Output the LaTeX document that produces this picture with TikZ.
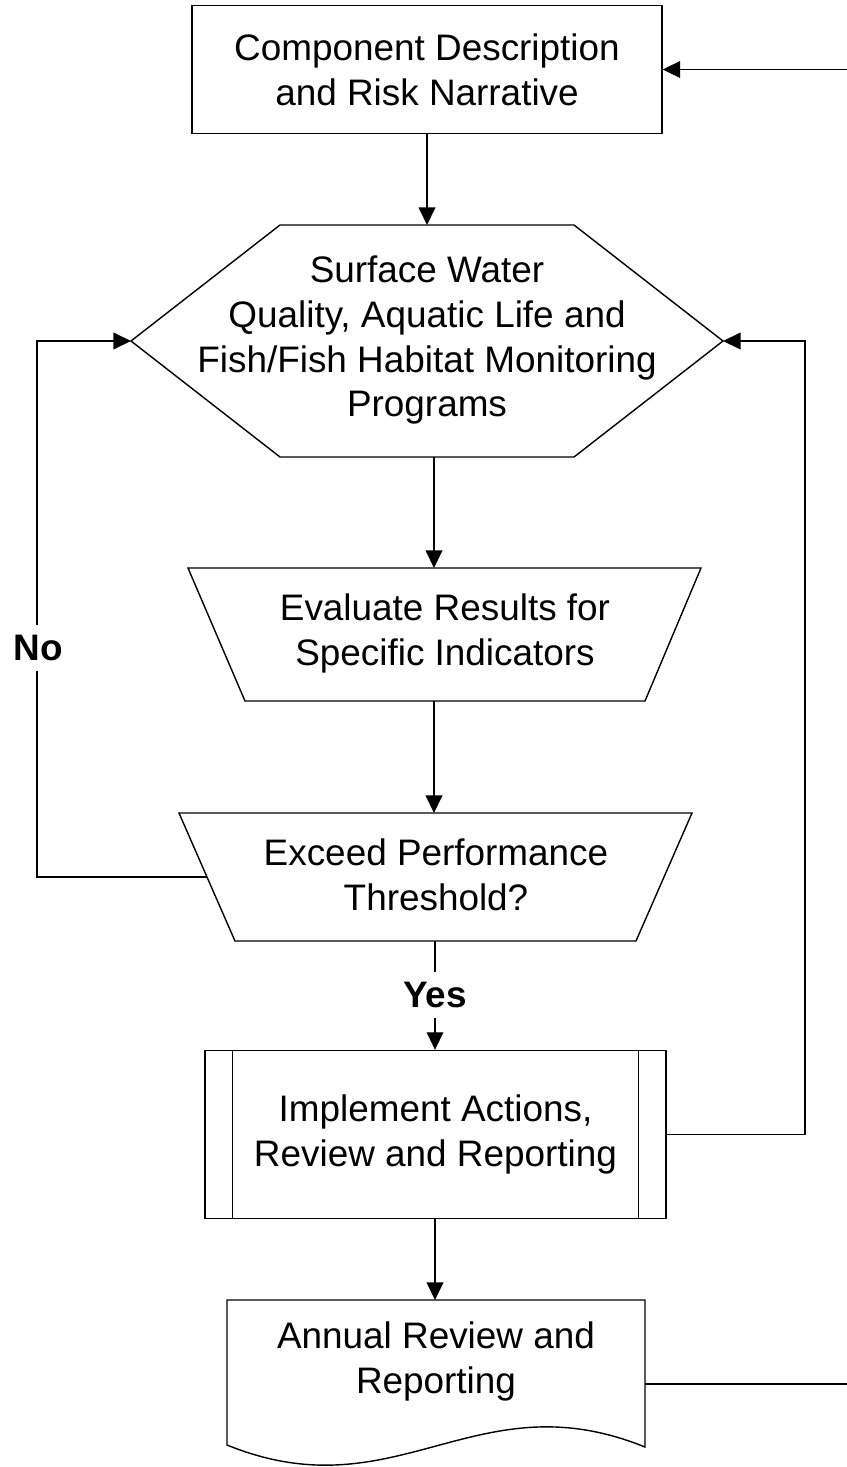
\documentclass[tikz,border=0pt]{standalone}
\usepackage{fontspec}
\setmainfont{Liberation Sans}
\usetikzlibrary{arrows.meta}

\tikzset{
  outline/.style={draw, line width=0.8pt},
  txt/.style={align=center, inner sep=0pt, font=\fontsize{21}{25.6}\selectfont},
  answer/.style={fill=white, inner xsep=2pt, inner ysep=6pt, font=\fontsize{21}{25.6}\selectfont\bfseries},
  link/.style={line width=0.8pt},
  flow/.style={link, -{Triangle[length=10pt,width=9.5pt]}},
}

\begin{document}
\begin{tikzpicture}[x=0.02cm, y=-0.02cm]
  \useasboundingbox (0,0) rectangle (847,1467);

  % Boxes
  \node[txt, outline, minimum width=9.4cm, minimum height=2.56cm] (comp) at (427,69.5)
    {Component Description\\and Risk Narrative};

  \draw[outline] (131,341) -- (280,225) -- (574,225) -- (723,341) -- (574,457) -- (280,457) -- cycle;
  \node[txt] (monitor) at (427,340)
    {Surface Water\\Quality, Aquatic Life and\\Fish/Fish Habitat Monitoring\\Programs};

  \draw[outline] (188,568) -- (701,568) -- (645,701) -- (245,701) -- cycle;
  \node[txt] (evaluate) at (445,633) {Evaluate Results for\\Specific Indicators};

  \draw[outline] (179,813) -- (692,813) -- (636,941) -- (235,941) -- cycle;
  \node[txt] (exceed) at (436,875) {Exceed Performance\\Threshold?};

  \node[txt, outline, minimum width=9.22cm, minimum height=3.36cm] (implement) at (435.5,1134.5)
    {Implement Actions,\\Review and Reporting};
  \draw[outline] ([xshift=0.56cm]implement.north west) -- ([xshift=0.56cm]implement.south west)
                 ([xshift=-0.56cm]implement.north east) -- ([xshift=-0.56cm]implement.south east);

  \draw[outline] (227,1445) -- (227,1300) -- (645,1300) -- (645,1447)
    .. controls (475,1378) and (397,1514) .. (227,1445) -- cycle;
  \node[txt] (annual) at (436,1361) {Annual Review and\\Reporting};

  % Ends on the shapes
  \coordinate (monN) at (427,225);
  \coordinate (monS) at (434,457);
  \coordinate (monW) at (131,341);
  \coordinate (monE) at (723,341);
  \coordinate (evalN) at (434,568);
  \coordinate (evalS) at (434,701);
  \coordinate (exceedN) at (434,813);
  \coordinate (exceedS) at (435,941);
  \coordinate (exceedW) at (207,877);
  \coordinate (annualN) at (435,1300);
  \coordinate (annualE) at (645,1384);
  \coordinate (noLane) at (37,600);
  \coordinate (backLane) at (805,700);
  \coordinate (edgeLow) at (847,1384);
  \coordinate (edgeTop) at (847,69.5);

  % Connectors
  \draw[flow] (comp.south) -- (monN);
  \draw[flow] (monS) -- (evalN);
  \draw[flow] (evalS) -- (exceedN);
  \draw[flow] (exceedS) -- (exceedS |- implement.north);
  \draw[flow] (implement.south -| annualN) -- (annualN);
  \draw[flow] (exceedW) -| (noLane) |- (monW);
  \draw[flow] (implement.east) -| (backLane) |- (monE);
  \draw[link] (annualE) -- (edgeLow);
  \draw[flow] (edgeTop) -- (comp.east);

  % Answers
  \node[answer] (no) at (38,648) {No};
  \node[answer] (yes) at (435,995) {Yes};

\end{tikzpicture}
\end{document}
